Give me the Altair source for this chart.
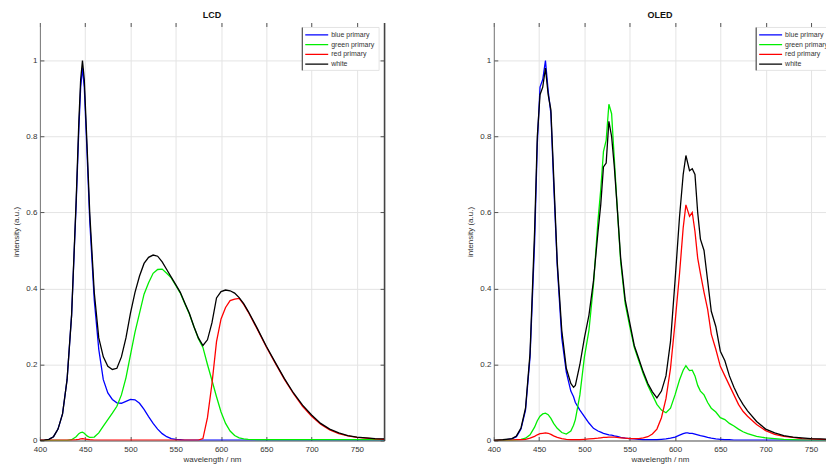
import altair as alt
import pandas as pd

FONT = "Liberation Sans"

series_names = ["blue primary", "green primary", "red primary", "white"]
series_colors = ["#0000ff", "#00ee00", "#ff0000", "#000000"]
x_ticks = [400, 450, 500, 550, 600, 650, 700, 750]
y_ticks = [0, 0.2, 0.4, 0.6, 0.8, 1.0]

# ---------------- LCD ----------------
lcd_wavelength = [400, 405, 410, 415, 420, 425, 430, 435, 440, 443, 445, 447, 449, 452, 455,
                  460, 465, 470, 475, 480, 485, 490, 495, 500, 505, 510, 515, 520, 525, 530,
                  535, 540, 545, 550, 555, 560, 565, 570, 575, 580, 585, 590, 595, 600, 605,
                  610, 615, 620, 625, 630, 640, 650, 660, 670, 680, 690, 700, 710, 720, 730,
                  740, 750, 760, 770, 780]
lcd_blue = [0.0, 0.001, 0.003, 0.01, 0.03, 0.07, 0.16, 0.33, 0.62, 0.82, 0.93, 0.98, 0.93, 0.76, 0.58,
            0.37, 0.24, 0.16, 0.125, 0.108, 0.099, 0.098, 0.103, 0.108, 0.107, 0.098, 0.082, 0.063, 0.045, 0.03,
            0.018, 0.01, 0.005, 0.003, 0.002, 0.001, 0.001, 0.001, 0.001, 0.001, 0.001, 0.001, 0.001, 0.001, 0.001,
            0.001, 0.001, 0.001, 0.001, 0.001, 0.001, 0.001, 0.001, 0.001, 0.001, 0.001, 0.001, 0.001, 0.001, 0.001,
            0.001, 0.001, 0.001, 0.001, 0.001]
lcd_green = [0.0, 0.0, 0.0, 0.0, 0.0, 0.0, 0.0, 0.002, 0.01, 0.018, 0.021, 0.022, 0.019, 0.012, 0.008,
             0.009, 0.02, 0.038, 0.055, 0.072, 0.09, 0.12, 0.165, 0.225, 0.285, 0.335, 0.385, 0.415, 0.44, 0.45,
             0.451, 0.44, 0.428, 0.408, 0.388, 0.36, 0.333, 0.30, 0.268, 0.245, 0.2, 0.158, 0.115, 0.075, 0.045,
             0.025, 0.013, 0.007, 0.004, 0.003, 0.002, 0.002, 0.002, 0.002, 0.002, 0.002, 0.002, 0.002, 0.002, 0.002,
             0.002, 0.002, 0.002, 0.002, 0.002]
lcd_red = [0.001, 0.001, 0.001, 0.001, 0.001, 0.001, 0.001, 0.001, 0.002, 0.003, 0.004, 0.005, 0.004, 0.003, 0.002,
           0.001, 0.001, 0.001, 0.001, 0.001, 0.001, 0.001, 0.001, 0.001, 0.001, 0.001, 0.001, 0.001, 0.001, 0.001,
           0.001, 0.001, 0.001, 0.001, 0.001, 0.001, 0.001, 0.001, 0.001, 0.005, 0.06, 0.15, 0.26, 0.32, 0.35,
           0.368, 0.372, 0.374, 0.358, 0.338, 0.293, 0.246, 0.203, 0.161, 0.123, 0.09, 0.064, 0.043, 0.028, 0.018,
           0.012, 0.008, 0.006, 0.004, 0.003]
lcd_white = [0.0, 0.001, 0.003, 0.01, 0.03, 0.07, 0.16, 0.33, 0.63, 0.84, 0.95, 1.0, 0.95, 0.78, 0.6,
             0.39, 0.27, 0.22, 0.195, 0.187, 0.19, 0.22, 0.27, 0.335, 0.39, 0.433, 0.466, 0.482, 0.488, 0.485,
             0.47, 0.45, 0.43, 0.41, 0.39, 0.362, 0.335, 0.30, 0.27, 0.25, 0.265, 0.31, 0.375, 0.392, 0.396,
             0.394, 0.388, 0.376, 0.36, 0.34, 0.295, 0.248, 0.205, 0.163, 0.125, 0.093, 0.067, 0.045, 0.03, 0.02,
             0.013, 0.009, 0.007, 0.005, 0.004]

# ---------------- OLED ----------------
oled_wavelength = [400, 410, 420, 425, 430, 435, 440, 445, 448, 451, 454, 457, 460, 463, 466,
                   470, 475, 480, 485, 488, 490, 495, 500, 505, 510, 515, 518, 521, 524, 527,
                   530, 533, 536, 540, 545, 550, 555, 560, 565, 570, 575, 580, 585, 590, 595,
                   600, 605, 609, 612, 614, 616, 619, 622, 625, 628, 632, 636, 640, 645, 650,
                   655, 660, 665, 670, 675, 680, 690, 700, 710, 720, 730, 740, 750, 760, 770, 780]
oled_blue = [0.0, 0.001, 0.004, 0.01, 0.03, 0.08, 0.22, 0.52, 0.78, 0.93, 0.95, 1.0, 0.92, 0.86, 0.68,
             0.46, 0.27, 0.18, 0.13, 0.115, 0.1, 0.08, 0.063, 0.046, 0.032, 0.025, 0.022, 0.019, 0.017, 0.015,
             0.014, 0.012, 0.011, 0.008, 0.006, 0.005, 0.004, 0.003, 0.002, 0.002, 0.002, 0.002, 0.003, 0.004, 0.006,
             0.009, 0.014, 0.018, 0.02, 0.02, 0.019, 0.019, 0.017, 0.015, 0.013, 0.011, 0.008, 0.006, 0.004, 0.003,
             0.002, 0.002, 0.001, 0.001, 0.001, 0.001, 0.001, 0.001, 0.001, 0.001, 0.001, 0.001, 0.001, 0.001, 0.001, 0.001]
oled_green = [0.0, 0.0, 0.001, 0.002, 0.003, 0.006, 0.015, 0.035, 0.052, 0.064, 0.07, 0.072, 0.068, 0.058, 0.045,
              0.032, 0.021, 0.017, 0.025, 0.04, 0.055, 0.12, 0.22, 0.29, 0.41, 0.58, 0.66, 0.76, 0.79, 0.885,
              0.86, 0.74, 0.62, 0.47, 0.36, 0.30, 0.245, 0.21, 0.175, 0.145, 0.12, 0.095, 0.08, 0.073, 0.085,
              0.12, 0.16, 0.185, 0.197, 0.19, 0.184, 0.185, 0.17, 0.145, 0.13, 0.12, 0.1, 0.085, 0.075, 0.06,
              0.055, 0.045, 0.038, 0.03, 0.023, 0.018, 0.011, 0.007, 0.005, 0.003, 0.002, 0.001, 0.001, 0.001, 0.001, 0.001]
oled_red = [0.0, 0.001, 0.001, 0.002, 0.002, 0.003, 0.006, 0.011, 0.015, 0.018, 0.019, 0.02, 0.019, 0.016, 0.012,
            0.008, 0.005, 0.003, 0.002, 0.002, 0.002, 0.002, 0.003, 0.004, 0.005, 0.006, 0.007, 0.008, 0.008, 0.009,
            0.009, 0.009, 0.008, 0.007, 0.006, 0.005, 0.005, 0.005, 0.007, 0.01, 0.017, 0.03, 0.06, 0.11, 0.19,
            0.31, 0.44, 0.56, 0.62, 0.605, 0.59, 0.6, 0.55, 0.48, 0.44, 0.39, 0.345, 0.28, 0.24, 0.195,
            0.17, 0.145, 0.12, 0.095, 0.077, 0.064, 0.042, 0.026, 0.016, 0.011, 0.008, 0.005, 0.004, 0.003, 0.002, 0.002]
oled_white = [0.0, 0.002, 0.005, 0.012, 0.033, 0.085, 0.23, 0.55, 0.80, 0.91, 0.93, 0.98, 0.91, 0.87, 0.70,
              0.47, 0.29, 0.19, 0.15, 0.14, 0.145, 0.2, 0.27, 0.33, 0.42, 0.55, 0.62, 0.72, 0.73, 0.84,
              0.80, 0.72, 0.62, 0.48, 0.37, 0.31, 0.25, 0.215, 0.18, 0.15, 0.128, 0.112, 0.13, 0.17, 0.26,
              0.42, 0.59, 0.70, 0.75, 0.73, 0.71, 0.715, 0.70, 0.60, 0.53, 0.50, 0.42, 0.34, 0.30, 0.235,
              0.21, 0.17, 0.14, 0.115, 0.095, 0.078, 0.05, 0.03, 0.02, 0.013, 0.009, 0.007, 0.005, 0.004, 0.003, 0.003]

PX_PER_NM = 345 / 380.0
PLOT_H = 419
AX = "#555555"


def long_frame(wl, cols):
    rows = []
    for name, vals in zip(series_names, cols):
        for w, v in zip(wl, vals):
            rows.append({"wavelength": w, "intensity": v, "series": name})
    return pd.DataFrame(rows)


def panel(title, wl, cols, x_max, full_frame):
    df = long_frame(wl, cols)
    width = round((x_max - 400) * PX_PER_NM)
    xs = alt.Scale(domain=[400, x_max], nice=False, zero=False)
    ys = alt.Scale(domain=[0, 1.1], nice=False, zero=False)
    dummy = pd.DataFrame({"wavelength": [400], "intensity": [0.0]})

    lines = alt.Chart(df).mark_line(strokeWidth=1.3, clip=True).encode(
        x=alt.X("wavelength:Q", scale=xs,
                axis=alt.Axis(orient="bottom", values=x_ticks, title="wavelength / nm",
                              grid=True, ticks=False, domain=True, domainColor=AX,
                              labelFlush=False, labelPadding=5, titlePadding=2)),
        y=alt.Y("intensity:Q", scale=ys,
                axis=alt.Axis(orient="left", values=y_ticks, title="intensity (a.u.)",
                              format=".1~f", grid=True, ticks=False, domain=True,
                              domainColor="#777777", labelFlush=False,
                              labelPadding=3, titlePadding=5)),
        color=alt.Color("series:N", scale=alt.Scale(domain=series_names, range=series_colors),
                        legend=None),
    )
    ticks_in = alt.Chart(dummy).mark_point(opacity=0).encode(
        x=alt.X("wavelength:Q", scale=xs,
                axis=alt.Axis(orient="bottom", values=x_ticks, offset=-4, tickSize=4,
                              labels=False, domain=False, grid=False, title=None, tickColor=AX)),
        y=alt.Y("intensity:Q", scale=ys,
                axis=alt.Axis(orient="left", values=y_ticks, offset=-4, tickSize=4,
                              labels=False, domain=False, grid=False, title=None, tickColor=AX)),
    )
    top_ticks = alt.Chart(dummy).mark_point(opacity=0).encode(
        x=alt.X("wavelength:Q", scale=xs,
                axis=alt.Axis(orient="top", values=x_ticks, offset=-4, tickSize=4,
                              labels=False, domain=False, grid=False, title=None, tickColor=AX)),
        y=alt.Y("intensity:Q", scale=ys, axis=None),
    )
    layers = [lines, ticks_in, top_ticks]
    if full_frame:
        layers.append(alt.Chart(dummy).mark_point(opacity=0).encode(
            x=alt.X("wavelength:Q", scale=xs, axis=None),
            y=alt.Y("intensity:Q", scale=ys,
                    axis=alt.Axis(orient="right", values=y_ticks, offset=-4, tickSize=4,
                                  labels=False, domain=False, grid=False, title=None,
                                  tickColor=AX)),
        ))
        layers.append(alt.Chart(dummy).mark_point(opacity=0).encode(
            x=alt.X("wavelength:Q", scale=xs, axis=None),
            y=alt.Y("intensity:Q", scale=ys,
                    axis=alt.Axis(orient="right", values=y_ticks, ticks=False, labels=False,
                                  domain=True, domainColor="#444444", domainWidth=1.6,
                                  grid=False, title=None)),
        ))

    # legend box (placed in plot coordinates, clipped to the plot area)
    one = pd.DataFrame({"k": [0]})
    lx0, lx1, ly0, ly1 = 263, 340, 5, 48
    layers.append(alt.Chart(one).mark_rect(fill="white", stroke="#dddddd", strokeWidth=0.8,
                                           clip=True).encode(
        x=alt.value(lx0), x2=alt.value(lx1), y=alt.value(ly0), y2=alt.value(ly1)))
    layers.append(alt.Chart(one).mark_rule(color="#333333", strokeWidth=1, clip=True).encode(
        x=alt.value(lx0), y=alt.value(ly0), y2=alt.value(ly1)))
    for i, (name, col) in enumerate(zip(series_names, series_colors)):
        yy = 12.3 + i * 9.8
        layers.append(alt.Chart(pd.DataFrame({"label": [name]})).mark_rule(
            color=col, strokeWidth=1.3, clip=True).encode(
            x=alt.value(lx0 + 3), x2=alt.value(lx0 + 26), y=alt.value(yy)))
        layers.append(alt.Chart(pd.DataFrame({"label": [name]})).mark_text(
            align="left", baseline="middle", font=FONT, fontSize=7, color="#333333",
            clip=True).encode(
            x=alt.value(lx0 + 29), y=alt.value(yy), text="label:N"))

    return alt.layer(*layers).resolve_axis(x="independent", y="independent").properties(
        width=width, height=PLOT_H,
        title=alt.TitleParams(title, font=FONT, fontSize=9, fontWeight="bold",
                              color="#111111", offset=2, anchor="middle"),
    )


lcd = panel("LCD", lcd_wavelength, [lcd_blue, lcd_green, lcd_red, lcd_white], 780, True)
oled = panel("OLED", oled_wavelength, [oled_blue, oled_green, oled_red, oled_white], 766.6, False)

chart = alt.hconcat(lcd, oled, spacing=81).properties(
    padding={"left": 12, "top": 10, "right": 0, "bottom": 0},
    background="white",
).configure_view(stroke=None).configure_axis(
    labelFont=FONT, labelFontSize=8, labelColor="#333333",
    titleFont=FONT, titleFontSize=8, titleFontWeight="normal", titleColor="#333333",
    gridColor="#e4e4e4", gridWidth=1,
)

chart.save("out.html", embed_options={"renderer": "svg", "actions": False})
